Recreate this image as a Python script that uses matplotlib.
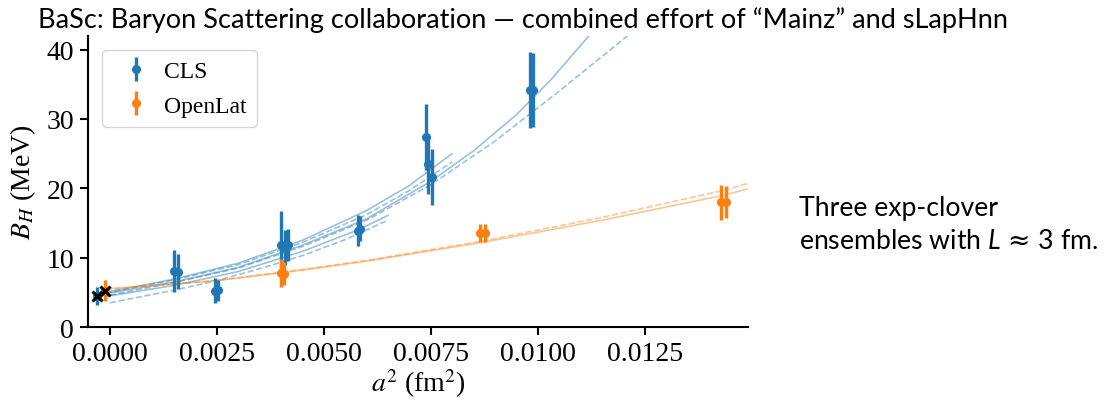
import matplotlib
matplotlib.use("Agg")
import matplotlib.pyplot as plt
import numpy as np

# ---------------- data ----------------
cls_x = [-0.00031, 0.00150, 0.00160, 0.00245, 0.00252, 0.00400, 0.00410, 0.00417,
         0.00580, 0.00585, 0.00738, 0.00744, 0.00754, 0.00981, 0.00989]
cls_y = [4.5, 8.1, 8.0, 5.2, 5.3, 11.9, 11.5, 11.8,
         13.9, 14.2, 27.4, 23.5, 21.6, 34.2, 34.2]
cls_err = [1.3, 3.0, 2.5, 1.8, 1.5, 4.8, 2.5, 2.3,
           2.2, 1.8, 4.7, 4.3, 4.0, 5.5, 5.3]

ol_x = [-0.00012, 0.00400, 0.00408, 0.00865, 0.00877, 0.01429, 0.01439]
ol_y = [5.25, 7.8, 7.7, 13.6, 13.6, 18.0, 18.0]
ol_err = [1.5, 2.0, 1.7, 1.3, 1.3, 2.5, 2.3]

phys_x = [-0.00031, -0.00012]
phys_y = [4.5, 5.25]

# fit curves
cls_fit_solid_long_x = [-0.0001, 0.0015, 0.003, 0.0045, 0.006, 0.0075, 0.0085, 0.0095, 0.0103, 0.0112]
cls_fit_solid_long_y = [4.8, 6.5, 8.6, 11.8, 15.6, 21.0, 25.4, 30.6, 35.6, 42.0]
cls_fit_dash_long_x = [0.0, 0.0015, 0.003, 0.0045, 0.006, 0.0075, 0.009, 0.0105, 0.0121]
cls_fit_dash_long_y = [4.6, 6.4, 8.5, 11.6, 15.4, 20.5, 26.8, 34.0, 42.0]
cls_fit_solid_mid_x = [-0.0001, 0.0015, 0.003, 0.0045, 0.006, 0.007, 0.008]
cls_fit_solid_mid_y = [5.0, 6.9, 9.2, 12.5, 16.8, 20.4, 25.0]
cls_fit_dash_mid_x = [-0.0001, 0.0015, 0.003, 0.0045, 0.006, 0.007, 0.008]
cls_fit_dash_mid_y = [4.9, 6.8, 9.0, 12.2, 16.2, 19.7, 23.8]
cls_fit_solid_short_x = [-0.0001, 0.0015, 0.003, 0.0045, 0.0058, 0.0065]
cls_fit_solid_short_y = [4.4, 6.0, 8.0, 10.9, 14.0, 16.1]
cls_fit_dash_short_x = [0.0, 0.0015, 0.0025, 0.0035, 0.0045, 0.0055, 0.0065]
cls_fit_dash_short_y = [3.5, 5.3, 6.7, 8.4, 10.3, 12.6, 15.4]

ol_fit_solid_x = [-0.0001, 0.0025, 0.0045, 0.006, 0.0087, 0.0115, 0.01434, 0.0149]
ol_fit_solid_y = [5.5, 6.7, 8.2, 9.5, 12.2, 15.4, 19.0, 19.9]
ol_fit_dash_x = [-0.0001, 0.0025, 0.0045, 0.006, 0.0087, 0.0115, 0.01434, 0.0149]
ol_fit_dash_y = [5.4, 6.7, 8.3, 9.6, 12.4, 15.8, 19.7, 20.7]

x_ticks = [0.0, 0.0025, 0.005, 0.0075, 0.01, 0.0125]
x_tick_labels = ['0.0000', '0.0025', '0.0050', '0.0075', '0.0100', '0.0125']
y_ticks = [0, 10, 20, 30, 40]

title = "BaSc: Baryon Scattering collaboration \u2014 combined effort of \u201cMainz\u201d and sLapHnn"
side_text = "Three exp-clover\nensembles with $L\\,\\mathbf{\\approx}\\,3$ fm."

# ---------------- style ----------------
plt.rcParams['font.family'] = ['Liberation Serif', 'DejaVu Serif']
plt.rcParams['mathtext.fontset'] = 'stix'
plt.rcParams['mathtext.it'] = 'Lato:italic'
plt.rcParams['mathtext.rm'] = 'Lato'
plt.rcParams['mathtext.sf'] = 'Lato'
plt.rcParams['mathtext.bf'] = 'DejaVu Sans'
plt.rcParams['mathtext.fallback'] = 'stixsans'
plt.rcParams['font.size'] = 20

blue = '#1f77b4'
orange = '#ff7f0e'

fig = plt.figure(figsize=(11.03, 4.06), dpi=100)
ax = fig.add_axes([0.0798, 0.192, 0.678 - 0.0798, 0.9096 - 0.192])

# fit curves
fit_kw = dict(lw=1.2, alpha=0.45)
ax.plot(cls_fit_solid_long_x, cls_fit_solid_long_y, '-', color=blue, **fit_kw)
ax.plot(cls_fit_dash_long_x, cls_fit_dash_long_y, '--', color=blue, **fit_kw)
ax.plot(cls_fit_solid_mid_x, cls_fit_solid_mid_y, '-', color=blue, **fit_kw)
ax.plot(cls_fit_dash_mid_x, cls_fit_dash_mid_y, '--', color=blue, **fit_kw)
ax.plot(cls_fit_solid_short_x, cls_fit_solid_short_y, '-', color=blue, **fit_kw)
ax.plot(cls_fit_dash_short_x, cls_fit_dash_short_y, '--', color=blue, **fit_kw)
ax.plot(ol_fit_solid_x, ol_fit_solid_y, '-', color=orange, **fit_kw)
ax.plot(ol_fit_dash_x, ol_fit_dash_y, '--', color=orange, **fit_kw)

# data
eb_kw = dict(fmt='o', ms=5.5, elinewidth=2.4, capsize=0, ls='none')
ax.errorbar(cls_x, cls_y, yerr=cls_err, color=blue, label='CLS', **eb_kw)
ax.errorbar(ol_x, ol_y, yerr=ol_err, color=orange, label='OpenLat', **eb_kw)
ax.plot(phys_x, phys_y, 'x', color='black', ms=7, mew=2.2, zorder=5)

ax.set_xlim(-0.00051, 0.01491)
ax.set_ylim(0, 42)
ax.set_xticks(x_ticks)
ax.set_xticklabels(x_tick_labels)
ax.set_yticks(y_ticks)
ax.spines['top'].set_visible(False)
ax.spines['right'].set_visible(False)
ax.spines['left'].set_linewidth(1.5)
ax.spines['bottom'].set_linewidth(1.5)
ax.tick_params(width=1.5, length=6, labelsize=20, pad=4)

ax.set_xlabel('$a^2$ (fm$^2$)', fontsize=20, labelpad=0)
ax.set_ylabel('$B_H$ (MeV)', fontsize=20, labelpad=6)

ax.legend(loc='upper left', fontsize=17, handlelength=2.0, handletextpad=0.15,
          borderpad=0.45, labelspacing=0.55, borderaxespad=0.6)

fig.text(0.4746, 0.951, title, ha='center', va='center', fontsize=19.5,
         family=['Lato', 'DejaVu Sans'])
fig.text(0.7245, 0.4446, side_text, ha='left', va='center', fontsize=19.2,
         family=['Lato', 'DejaVu Sans'], linespacing=1.4,
         math_fontfamily='custom')

fig.savefig('out.png', dpi=100)
